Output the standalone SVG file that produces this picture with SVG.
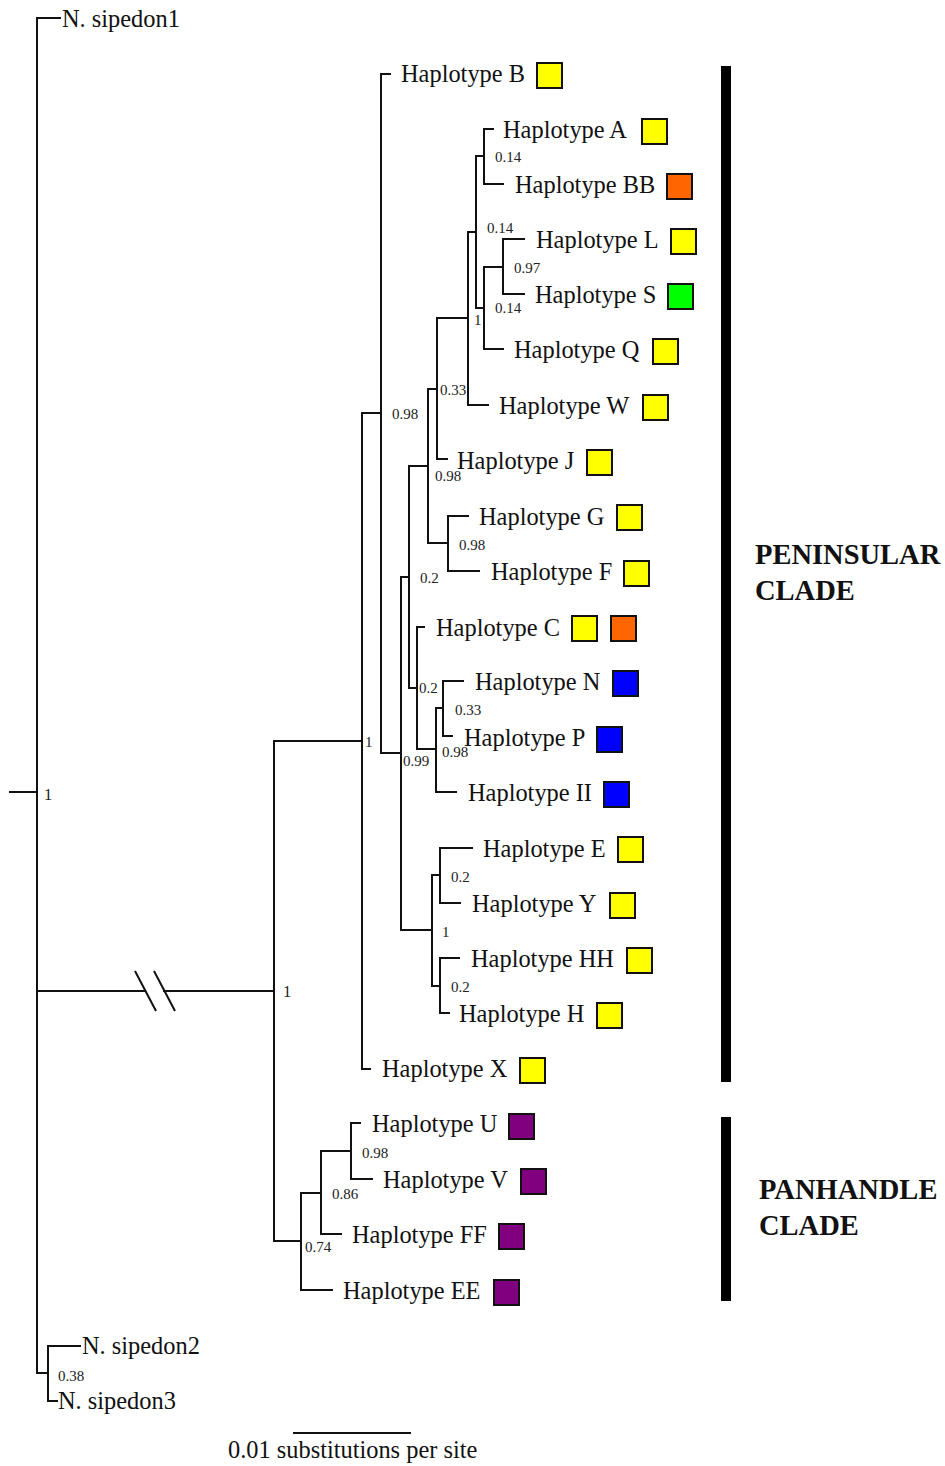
<svg xmlns="http://www.w3.org/2000/svg" width="945" height="1466" viewBox="0 0 945 1466">
<style>
.br{fill:none;stroke:#111;stroke-width:2;stroke-linecap:square}
.lb{font-family:"Liberation Serif","Times New Roman",serif;font-size:24.4px;fill:#111}
.sv{font-family:"Liberation Serif","Times New Roman",serif;font-size:15px;fill:#222}
.sv2{font-family:"Liberation Serif","Times New Roman",serif;font-size:16.5px;fill:#222}
.cl{font-family:"Liberation Serif","Times New Roman",serif;font-size:28.5px;font-weight:bold;fill:#111}
.sq{stroke:#111;stroke-width:2}
.y{fill:#ffff00}.o{fill:#ff6600}.g{fill:#00ff00}.b{fill:#0000ff}.p{fill:#800080}
</style>
<rect width="945" height="1466" fill="#fff"/>
<g id="connectors" class="br">
<path d="M10,792 H37 M37,18 V1373 M37,18 H60 M37,991 H145 M164,991 H274 M37,1373 H48 M48,1346 V1401 M48,1346 H80 M48,1401 H57"/>
<path d="M135,971 L156,1011 M154,971 L175,1011" stroke-linecap="butt"/>
<path d="M274,741 V1241 M274,741 H362 M274,1241 H301 M362,413 V1069 M362,1069 H370 M362,413 H381 M381,74 V753 M381,74 H390 M381,753 H401 M401,577 V930 M401,577 H409 M409,466 V688 M409,466 H428 M428,389 V543 M428,389 H437 M437,318 V459 M437,459 H447 M437,318 H468 M468,232 V405 M468,405 H488 M468,232 H476 M476,156 V308 M476,156 H484 M484,129 V184 M484,129 H493 M484,184 H503 M476,308 H484 M484,267 V349 M484,349 H503 M484,267 H503 M503,239 V294 M503,239 H524 M503,294 H524 M428,543 H448 M448,516 V571 M448,516 H468 M448,571 H479 M409,688 H417 M417,627 V749 M417,627 H424 M417,749 H436 M436,708 V792 M436,792 H456 M436,708 H443 M443,681 V736 M443,681 H463 M443,736 H452 M401,930 H432 M432,875 V986 M432,875 H440 M440,848 V903 M440,848 H472 M440,903 H460 M432,986 H440 M440,958 V1013 M440,958 H459 M440,1013 H449"/>
<path d="M301,1193 V1290 M301,1290 H332 M301,1193 H321 M321,1151 V1234 M321,1234 H341 M321,1151 H351 M351,1123 V1179 M351,1123 H360 M351,1179 H372"/>
</g>
<g id="support-values">
<text class="sv2" x="44" y="800">1</text>
<text class="sv2" x="283" y="997">1</text>
<text class="sv" x="365" y="747">1</text>
<text class="sv" x="392" y="419">0.98</text>
<text class="sv" x="403" y="766">0.99</text>
<text class="sv" x="420" y="583">0.2</text>
<text class="sv" x="435" y="481">0.98</text>
<text class="sv" x="440" y="395">0.33</text>
<text class="sv" x="474" y="325">1</text>
<text class="sv" x="487" y="233">0.14</text>
<text class="sv" x="495" y="162">0.14</text>
<text class="sv" x="514" y="273">0.97</text>
<text class="sv" x="495" y="313">0.14</text>
<text class="sv" x="459" y="550">0.98</text>
<text class="sv" x="419" y="693">0.2</text>
<text class="sv" x="442" y="757">0.98</text>
<text class="sv" x="455" y="715">0.33</text>
<text class="sv" x="451" y="882">0.2</text>
<text class="sv" x="442" y="937">1</text>
<text class="sv" x="451" y="992">0.2</text>
<text class="sv" x="362" y="1158">0.98</text>
<text class="sv" x="332" y="1199">0.86</text>
<text class="sv" x="305" y="1252">0.74</text>
<text class="sv" x="58" y="1381">0.38</text>
</g>
<g id="sipedon1"><text class="lb" x="62" y="27">N. sipedon1</text></g>
<g id="sipedon2"><text class="lb" x="82" y="1354">N. sipedon2</text></g>
<g id="sipedon3"><text class="lb" x="58" y="1409">N. sipedon3</text></g>
<g id="hapB"><text class="lb" x="401" y="82">Haplotype B</text><rect class="sq y" x="537" y="63" width="25" height="25"/></g>
<g id="hapA"><text class="lb" x="503" y="138">Haplotype A</text><rect class="sq y" x="642" y="119" width="25" height="25"/></g>
<g id="hapBB"><text class="lb" x="515" y="193">Haplotype BB</text><rect class="sq o" x="667" y="174" width="25" height="25"/></g>
<g id="hapL"><text class="lb" x="536" y="248">Haplotype L</text><rect class="sq y" x="671" y="229" width="25" height="25"/></g>
<g id="hapS"><text class="lb" x="535" y="303">Haplotype S</text><rect class="sq g" x="668" y="284" width="25" height="25"/></g>
<g id="hapQ"><text class="lb" x="514" y="358">Haplotype Q</text><rect class="sq y" x="653" y="339" width="25" height="25"/></g>
<g id="hapW"><text class="lb" x="499" y="414">Haplotype W</text><rect class="sq y" x="643" y="395" width="25" height="25"/></g>
<g id="hapJ"><text class="lb" x="457" y="469">Haplotype J</text><rect class="sq y" x="587" y="450" width="25" height="25"/></g>
<g id="hapG"><text class="lb" x="479" y="525">Haplotype G</text><rect class="sq y" x="617" y="505" width="25" height="25"/></g>
<g id="hapF"><text class="lb" x="491" y="580">Haplotype F</text><rect class="sq y" x="624" y="561" width="25" height="25"/></g>
<g id="hapC"><text class="lb" x="436" y="636">Haplotype C</text><rect class="sq y" x="572" y="616" width="25" height="25"/><rect class="sq o" x="611" y="616" width="25" height="25"/></g>
<g id="hapN"><text class="lb" x="475" y="690">Haplotype N</text><rect class="sq b" x="613" y="671" width="25" height="25"/></g>
<g id="hapP"><text class="lb" x="464" y="746">Haplotype P</text><rect class="sq b" x="597" y="727" width="25" height="25"/></g>
<g id="hapII"><text class="lb" x="468" y="801">Haplotype II</text><rect class="sq b" x="604" y="782" width="25" height="25"/></g>
<g id="hapE"><text class="lb" x="483" y="857">Haplotype E</text><rect class="sq y" x="618" y="837" width="25" height="25"/></g>
<g id="hapY"><text class="lb" x="472" y="912">Haplotype Y</text><rect class="sq y" x="610" y="893" width="25" height="25"/></g>
<g id="hapHH"><text class="lb" x="471" y="967">Haplotype HH</text><rect class="sq y" x="627" y="948" width="25" height="25"/></g>
<g id="hapH"><text class="lb" x="459" y="1022">Haplotype H</text><rect class="sq y" x="597" y="1003" width="25" height="25"/></g>
<g id="hapX"><text class="lb" x="382" y="1077">Haplotype X</text><rect class="sq y" x="520" y="1058" width="25" height="25"/></g>
<g id="hapU"><text class="lb" x="372" y="1132">Haplotype U</text><rect class="sq p" x="509" y="1114" width="25" height="25"/></g>
<g id="hapV"><text class="lb" x="383" y="1188">Haplotype V</text><rect class="sq p" x="521" y="1169" width="25" height="25"/></g>
<g id="hapFF"><text class="lb" x="352" y="1243">Haplotype FF</text><rect class="sq p" x="499" y="1224" width="25" height="25"/></g>
<g id="hapEE"><text class="lb" x="343" y="1299">Haplotype EE</text><rect class="sq p" x="494" y="1280" width="25" height="25"/></g>
<g id="peninsular-clade"><rect x="721" y="66" width="10" height="1016" fill="#000"/><text class="cl" x="755" y="564">PENINSULAR</text><text class="cl" x="755" y="600">CLADE</text></g>
<g id="panhandle-clade"><rect x="721" y="1117" width="10" height="184" fill="#000"/><text class="cl" x="759" y="1199">PANHANDLE</text><text class="cl" x="759" y="1235">CLADE</text></g>
<g id="scale"><path d="M293,1433 H411" stroke="#111" stroke-width="2"/><text class="lb" x="228" y="1458">0.01 substitutions per site</text></g>
</svg>
